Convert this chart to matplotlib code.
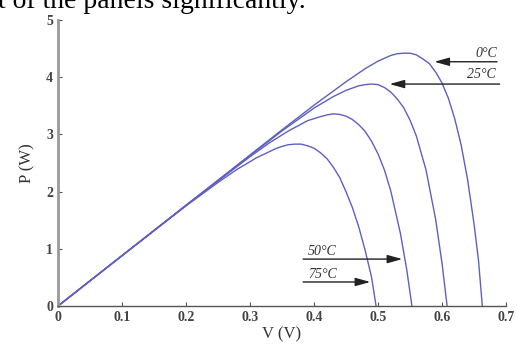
import matplotlib
matplotlib.use("Agg")
import matplotlib.pyplot as plt

# P-V curves (V in volts, P in watts)
v_0c = [0, 0.1, 0.2, 0.3, 0.35, 0.4, 0.45, 0.48, 0.50, 0.51, 0.52, 0.53, 0.54, 0.55, 0.56, 0.57,
        0.58, 0.59, 0.60, 0.61, 0.62, 0.63, 0.64, 0.65, 0.657, 0.663]
p_0c = [0, 0.88, 1.76, 2.64, 3.08, 3.51, 3.92, 4.15, 4.28, 4.33, 4.38, 4.41, 4.42, 4.42, 4.39, 4.32,
        4.24, 4.09, 3.90, 3.63, 3.27, 2.81, 2.21, 1.44, 0.80, 0]

v_25c = [0, 0.1, 0.2, 0.3, 0.35, 0.40, 0.43, 0.45, 0.46, 0.47, 0.48, 0.49, 0.50, 0.51, 0.52, 0.53,
         0.54, 0.55, 0.56, 0.575, 0.59, 0.60, 0.608]
p_25c = [0, 0.88, 1.76, 2.63, 3.06, 3.46, 3.66, 3.77, 3.81, 3.85, 3.87, 3.88, 3.87, 3.82, 3.74, 3.62,
         3.47, 3.25, 2.97, 2.38, 1.52, 0.75, 0]

v_50c = [0, 0.1, 0.2, 0.3, 0.33, 0.36, 0.39, 0.41, 0.42, 0.43, 0.44, 0.45, 0.46, 0.47, 0.48, 0.49,
         0.50, 0.51, 0.52, 0.535, 0.545, 0.553]
p_50c = [0, 0.88, 1.76, 2.61, 2.85, 3.06, 3.24, 3.31, 3.34, 3.36, 3.35, 3.32, 3.26, 3.17, 3.05, 2.88,
         2.66, 2.38, 2.01, 1.27, 0.63, 0]

v_75c = [0, 0.1, 0.2, 0.25, 0.28, 0.31, 0.34, 0.35, 0.36, 0.37, 0.38, 0.39, 0.40, 0.41, 0.42, 0.43,
         0.44, 0.45, 0.46, 0.47, 0.48, 0.49, 0.497]
p_75c = [0, 0.88, 1.75, 2.16, 2.39, 2.59, 2.75, 2.79, 2.82, 2.83, 2.83, 2.80, 2.76, 2.68, 2.58, 2.43,
         2.25, 2.00, 1.72, 1.38, 0.97, 0.50, 0]

labels = ["0°C", "25°C", "50°C", "75°C"]
# arrow tail, arrow head, label position
arrow_tail = [(0.686, 4.27), (0.690, 3.88), (0.383, 0.82), (0.383, 0.42)]
arrow_head = [(0.588, 4.27), (0.518, 3.88), (0.538, 0.82), (0.488, 0.42)]
label_pos = [(0.670, 4.42), (0.662, 4.04), (0.413, 0.95), (0.413, 0.55)]

x_ticks = [0, 0.1, 0.2, 0.3, 0.4, 0.5, 0.6, 0.7]
y_ticks = [0, 1, 2, 3, 4, 5]

serif = ["Liberation Serif", "DejaVu Serif"]

fig = plt.figure(figsize=(5.17, 3.49), dpi=100)
ax = fig.add_axes([58 / 517, 43 / 349, 448 / 517, 286 / 349])

line_col = "#5f5fc2"
for v, p in [(v_0c, p_0c), (v_25c, p_25c), (v_50c, p_50c), (v_75c, p_75c)]:
    ax.plot(v, p, color=line_col, lw=1.0, clip_on=False, solid_joinstyle="round")

for lab, tail, head, pos in zip(labels, arrow_tail, arrow_head, label_pos):
    ax.annotate("", xy=head, xytext=tail,
                arrowprops=dict(arrowstyle="-|>,head_length=0.9,head_width=0.25",
                                color="#222222", lw=1.0, shrinkA=0, shrinkB=0),
                annotation_clip=False)
    ax.text(pos[0], pos[1], lab, family=serif, style="italic", fontsize=10,
            color="#333333", ha="center", va="center")

ax.set_xlim(0, 0.7)
ax.set_ylim(0, 5)
ax.set_xticks(x_ticks)
ax.set_yticks(y_ticks)
ax.set_xticklabels(["0", "0.1", "0.2", "0.3", "0.4", "0.5", "0.6", "0.7"])
ax.set_yticklabels([str(t) for t in y_ticks])
ax.tick_params(direction="in", length=3, width=0.8, colors="#555555", labelsize=10)
for lbl in ax.get_xticklabels() + ax.get_yticklabels():
    lbl.set_family(serif)
    lbl.set_fontweight("bold")
    lbl.set_color("#444444")

ax.spines["top"].set_visible(False)
ax.spines["right"].set_visible(False)
ax.spines["left"].set_color("#999999")
ax.spines["left"].set_linewidth(2)
ax.spines["bottom"].set_color("#555555")
ax.spines["bottom"].set_linewidth(1)

ax.set_xlabel("V (V)", family=serif, fontsize=12, color="#333333", labelpad=2)
ax.set_ylabel("P (W)", family=serif, fontsize=12, color="#333333", labelpad=8)

fig.text(-0.004, 1 - 8 / 349, "t of the panels significantly.", family=serif,
         fontsize=20, color="black", ha="left", va="baseline")

fig.savefig("out.png", dpi=100)
